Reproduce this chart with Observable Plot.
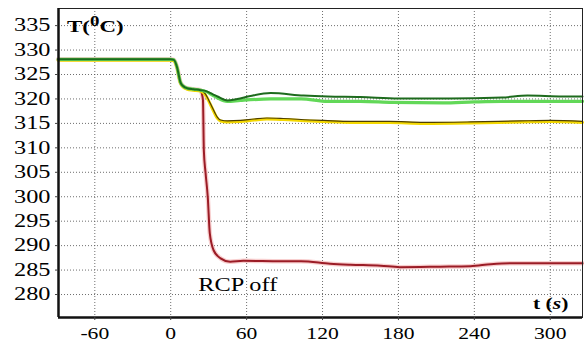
<!DOCTYPE html>
<html>
<head>
<meta charset="utf-8">
<script src="https://cdn.jsdelivr.net/npm/d3@7"></script>
<script src="https://cdn.jsdelivr.net/npm/@observablehq/plot@0.6"></script>
<style>
  html, body { margin: 0; padding: 0; background: #fff; }
  #chart svg { display: block; }
</style>
</head>
<body>
<div id="chart"></div>
<script>
// Coolant temperature after the reactor coolant pumps are switched off
const xTicks = [-60, 0, 60, 120, 180, 240, 300];
const yTicks = [280, 285, 290, 295, 300, 305, 310, 315, 320, 325, 330, 335];

// shared start of every trace (steady state, first cooldown step)
const tStart = [-89, 0, 2.5, 5, 7.7, 10, 13, 18, 23.5];
const vStart = [328.1, 328.1, 328.0, 326.5, 323.4, 322.6, 322.2, 322.0, 321.8];

const tDarkGreen = [28, 33, 37, 44.7, 52.6, 63, 79, 105, 124, 150, 180, 220, 262, 282, 310, 325.5];
const vDarkGreen = [321.6, 321.0, 320.5, 319.7, 320.0, 320.6, 321.2, 320.7, 320.5, 320.4, 320.1, 320.1, 320.3, 320.7, 320.5, 320.5];

const tLightGreen = [28, 33, 37, 44.7, 55, 79, 103, 124, 150, 175, 215, 240, 262, 325.5];
const vLightGreen = [321.5, 320.8, 320.2, 319.5, 319.7, 320.0, 320.0, 319.5, 319.5, 319.3, 319.2, 319.4, 319.5, 319.5];

const tYellow = [27.5, 30, 32.8, 36.8, 39.4, 45, 55, 66, 76, 89, 110, 121, 142, 173, 200, 237, 276, 300, 325.5];
const vYellow = [321.0, 319.8, 318.3, 316.3, 315.7, 315.5, 315.6, 315.9, 316.1, 316.0, 315.7, 315.6, 315.4, 315.4, 315.2, 315.3, 315.5, 315.6, 315.4];

const tRed = [24.5, 25.5, 26.2, 27.5, 29.3, 30.9, 34, 39.4, 47, 57.5, 87, 103, 126, 142, 166, 181, 213, 237, 253, 269, 325.5];
const vRed = [321.2, 319.7, 309.4, 305.0, 299.9, 292.5, 289.0, 287.4, 286.7, 286.9, 286.8, 286.8, 286.3, 286.1, 285.9, 285.6, 285.7, 285.8, 286.2, 286.4, 286.4];

function series(ts, vs) {
  const t = tStart.concat(ts), v = vStart.concat(vs);
  return t.map((d, i) => ({t: d, v: v[i]}));
}

const darkGreen = series(tDarkGreen, vDarkGreen);
const lightGreen = series(tLightGreen, vLightGreen);
const yellow = series(tYellow, vYellow);
const red = series(tRed, vRed);

const serif = "Liberation Serif";
const xMin = -88.7, yMin = 275.3;
const curve = "monotone-x";
const grid = {stroke: "#555", strokeOpacity: 0.85, strokeWidth: 1, strokeDasharray: "1,2"};
const plainNumber = d => String(d);

const chart = Plot.plot({
  width: 584,
  height: 341,
  marginLeft: 58,
  marginRight: 2,
  marginTop: 8,
  marginBottom: 24,
  x: {domain: [xMin, 325.5]},
  y: {domain: [yMin, 338.5]},
  style: {fontFamily: serif, fontSize: "17px", color: "#000", background: "#fff"},
  marks: [
    Plot.gridX(xTicks, grid),
    Plot.gridY(yTicks, grid),
    // red trace with soft halo
    Plot.line(red, {x: "t", y: "v", stroke: "#f2a7a7", strokeWidth: 4.5, strokeOpacity: 0.55, curve}),
    Plot.line(red, {x: "t", y: "v", stroke: "#9b1c26", strokeWidth: 2, curve}),
    // yellow trace with dark edge
    Plot.line(yellow, {x: "t", y: "v", stroke: "#f4d800", strokeWidth: 3, dy: 1, curve}),
    Plot.line(yellow, {x: "t", y: "v", stroke: "#4e3f00", strokeWidth: 1.2, curve}),
    Plot.line(lightGreen, {x: "t", y: "v", stroke: "#62d858", strokeWidth: 3.2, curve}),
    Plot.line(darkGreen, {x: "t", y: "v", stroke: "#1d6b1d", strokeWidth: 2, curve}),
    Plot.frame({stroke: "#222", strokeWidth: 1}),
    Plot.ruleX([xMin], {stroke: "#111", strokeWidth: 2.5}),
    Plot.ruleY([yMin], {stroke: "#111", strokeWidth: 2.5}),
    Plot.axisX(xTicks, {tickSize: 3, tickPadding: 7, fontSize: 16, label: null, stroke: "#444", tickFormat: plainNumber}),
    Plot.axisY(yTicks, {tickSize: 3, tickPadding: 5, fontSize: 18, label: null, stroke: "#444", tickFormat: plainNumber}),
    Plot.text(["RCP off"], {x: 53, y: 281.8, fontSize: 18, textAnchor: "middle", lineAnchor: "middle"})
  ]
});

document.getElementById("chart").appendChild(chart);

const svg = d3.select(chart);

// serif lettering everywhere, set wide
svg.selectAll("text").each(function() {
  this.style.fontFamily = `"${serif}", serif`;
  this.style.fontVariant = "normal";
  const w = this.getComputedTextLength();
  if (w > 0) {
    this.setAttribute("textLength", (w * 1.35).toFixed(1));
    this.setAttribute("lengthAdjust", "spacingAndGlyphs");
  }
});

// axis titles, widened the same way through a horizontal scale
const yTitle = svg.append("text")
  .attr("transform", "translate(67,31.5) scale(1.35,1)")
  .attr("text-anchor", "start")
  .style("font-family", `"${serif}", serif`)
  .attr("font-size", 17).attr("font-weight", "bold").attr("fill", "#000");
yTitle.append("tspan").text("T(");
yTitle.append("tspan").attr("dy", -6).attr("font-size", 14).text("0");
yTitle.append("tspan").attr("dy", 6).text("C)");

const xTitle = svg.append("text")
  .attr("transform", "translate(533,309) scale(1.35,1)")
  .attr("text-anchor", "start")
  .style("font-family", `"${serif}", serif`)
  .attr("font-size", 16).attr("font-weight", "bold").attr("fill", "#000");
xTitle.append("tspan").text("t (");
xTitle.append("tspan").attr("font-style", "italic").text("s");
xTitle.append("tspan").text(")");
</script>
</body>
</html>
